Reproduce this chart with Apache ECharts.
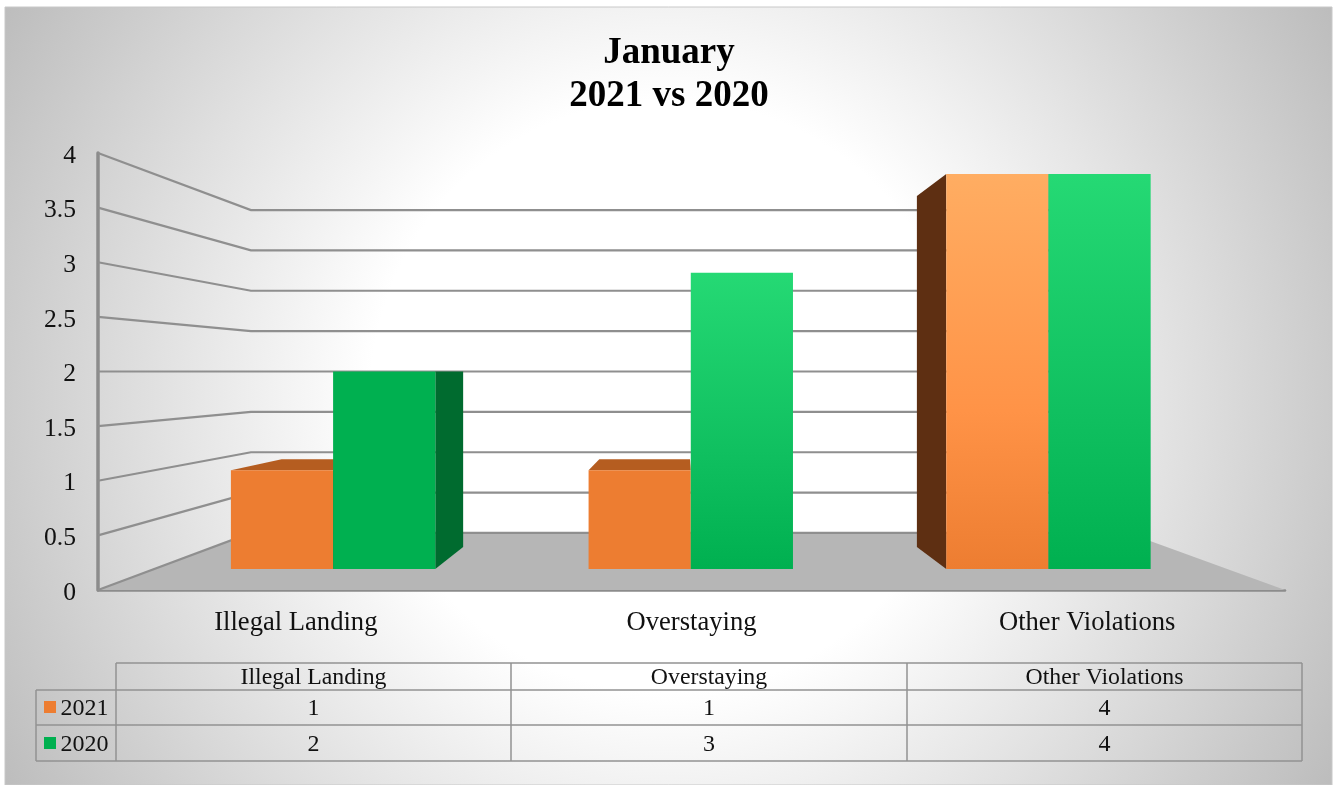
<!DOCTYPE html>
<html>
<head>
<meta charset="utf-8">
<style>html,body{margin:0;padding:0;background:#fff}#chart{width:1334px;height:785px}</style>
<script src="https://cdn.jsdelivr.net/npm/echarts@6/dist/echarts.min.js"></script>
</head>
<body>
<div id="chart"></div>
<script>
const categories = ['Illegal Landing', 'Overstaying', 'Other Violations'];
const values2021 = [1, 1, 4];
const values2020 = [2, 3, 4];
const yearNames = ['2021', '2020'];
const wallTicks = [0, 0.5, 1, 1.5, 2, 2.5, 3, 3.5, 4];
const titleText = 'January\n2021 vs 2020';

const SERIF = '"Liberation Serif","Times New Roman",serif';
const GRID = {left: 98, right: 1285, top: 153, bottom: 590};
const VANISH_X = 684;        // perspective vanishing point (x); y is the value-2 level
const K_FRONT = 0.904;       // depth scale of the bars' front faces
const K_DEPTH = 0.888;       // extra shrink from a bar's front to its back
const K_BACK = 0.739;        // depth scale of the back wall
const PALETTE = [
  {flat: '#ED7D31', top: '#FFAD62', mid: '#FF9347', side: '#5E2F12', cap: '#B55D20'},
  {flat: '#00B050', top: '#25D974', mid: '#10C060', side: '#006B2F', cap: '#006B2F'}
];

const chart = echarts.init(document.getElementById('chart'), null, {renderer: 'canvas'});

function persp(p, k, vy) {
  return [VANISH_X + (p[0] - VANISH_X) * k, vy + (p[1] - vy) * k];
}

function renderFloor(params, api) {
  const cs = params.coordSys;
  const vy = api.coord([0, 2])[1];
  const y0 = api.coord([0, 0])[1];
  const a = [cs.x, y0], b = [cs.x + cs.width, y0];
  return {type: 'polygon', shape: {points: [a, b, persp(b, K_BACK, vy), persp(a, K_BACK, vy)]},
    style: {fill: '#B6B6B6'}};
}

function renderWall(params, api) {
  const cs = params.coordSys;
  const v = api.value(0);
  const y = api.coord([0, v])[1];
  const vy = api.coord([0, 2])[1];
  const a = [cs.x, y], b = [cs.x + cs.width, y];
  return {type: 'polyline', shape: {points: [a, persp(a, K_BACK, vy), persp(b, K_BACK, vy)]},
    style: {fill: null, stroke: '#8F8F8F', lineWidth: 2.2}};
}

function makeBarRenderer(seriesIdx) {
  return function (params, api) {
    const vy = api.coord([0, 2])[1];
    const base = api.coord([api.value(0), 0]);
    const top = api.coord([api.value(0), api.value(1)]);
    const band = api.size([1, 0])[0] * K_FRONT;
    const w = band / 3.5;
    const c = persp(base, K_FRONT, vy)[0];
    const x0 = seriesIdx === 0 ? c - w : c;
    const x1 = x0 + w;
    const yT = persp(top, K_FRONT, vy)[1];
    const yB = persp(base, K_FRONT, vy)[1];
    const P = PALETTE[seriesIdx];
    const kids = [];
    const back = (x, y) => persp([x, y], K_DEPTH, vy);
    if (yT > vy + 1) {
      kids.push({type: 'polygon', z2: 5, shape: {points: [[x0, yT], [x1, yT], back(x1, yT), back(x0, yT)]},
        style: {fill: P.cap}});
    }
    if (x0 > VANISH_X + 20) {
      kids.push({type: 'polygon', z2: 5, shape: {points: [[x0, yT], [x0, yB], back(x0, yB), back(x0, yT)]},
        style: {fill: P.side}});
    }
    if (x1 < VANISH_X - 20) {
      kids.push({type: 'polygon', z2: 5, shape: {points: [[x1, yT], [x1, yB], back(x1, yB), back(x1, yT)]},
        style: {fill: P.side}});
    }
    const fill = api.value(1) > 2
      ? new echarts.graphic.LinearGradient(0, 0, 0, 1, [
          {offset: 0, color: P.top}, {offset: 0.6, color: P.mid}, {offset: 1, color: P.flat}])
      : P.flat;
    kids.push({type: 'rect', z2: 10, shape: {x: x0, y: yT, width: w, height: yB - yT}, style: {fill}});
    return {type: 'group', children: kids};
  };
}

// --- data table below the plot ---
const TX = [36, 116, 511, 907, 1302];
const TY = [663, 690, 725, 761];
const rowCenters = [708, 744];
const TBL_LINE = {stroke: '#929292', lineWidth: 1.5};
function hLine(x1, x2, y) { return {type: 'line', z: 5, shape: {x1, x2, y1: y, y2: y}, style: TBL_LINE}; }
function vLine(x, y1, y2) { return {type: 'line', z: 5, shape: {x1: x, x2: x, y1, y2}, style: TBL_LINE}; }
function tableText(text, x, y, size, align) {
  return {type: 'text', z: 6, x, y, style: {text, x: 0, y: 0, fill: '#111', font: size + 'px ' + SERIF,
    align: align || 'center', verticalAlign: 'middle'}};
}
const tableEls = [
  hLine(TX[1], TX[4], TY[0]), hLine(TX[0], TX[4], TY[1]), hLine(TX[0], TX[4], TY[2]), hLine(TX[0], TX[4], TY[3]),
  vLine(TX[0], TY[1], TY[3]), vLine(TX[1], TY[0], TY[3]), vLine(TX[2], TY[0], TY[3]),
  vLine(TX[3], TY[0], TY[3]), vLine(TX[4], TY[0], TY[3])
];
categories.forEach((c, i) => {
  const cx = (TX[i + 1] + TX[i + 2]) / 2;
  tableEls.push(tableText(c, cx, 678, 23.8));
  tableEls.push(tableText(String(values2021[i]), cx, rowCenters[0] + 1, 24));
  tableEls.push(tableText(String(values2020[i]), cx, rowCenters[1] + 1, 24));
});
yearNames.forEach((y, i) => {
  tableEls.push({type: 'rect', z: 6, shape: {x: 44, y: rowCenters[i] - 7, width: 12, height: 12},
    style: {fill: PALETTE[i].flat}});
  tableEls.push(tableText(y, 60.5, rowCenters[i] + 1, 24, 'left'));
});

chart.setOption({
  animation: false,
  backgroundColor: '#fff',
  title: {
    text: titleText, left: 664, top: 27, textAlign: 'center',
    textStyle: {fontFamily: SERIF, fontWeight: 'bold', fontSize: 37, lineHeight: 43, color: '#000'}
  },
  grid: {left: GRID.left, top: GRID.top, width: GRID.right - GRID.left, height: GRID.bottom - GRID.top, containLabel: false},
  xAxis: {
    type: 'category', data: categories,
    axisTick: {show: false},
    axisLine: {lineStyle: {color: '#8C8C8C', width: 2.5}},
    axisLabel: {fontFamily: SERIF, fontSize: 26.6, color: '#111', margin: 20}
  },
  yAxis: {
    type: 'value', min: 0, max: 4, interval: 0.5,
    splitLine: {show: false},
    axisTick: {show: false},
    axisLine: {show: true, lineStyle: {color: '#8C8C8C', width: 3.5}},
    axisLabel: {
      color: '#111', margin: 22,
      formatter: v => '{t|' + v + '}',
      rich: {t: {fontFamily: SERIF, fontSize: 25.6, color: '#111', padding: [6, 0, 0, 0]}}
    }
  },
  graphic: {elements: [
    {type: 'rect', z: -10, silent: true, shape: {x: 5, y: 7, width: 1327, height: 778},
      style: {stroke: '#C8C8C8', lineWidth: 1,
        fill: new echarts.graphic.RadialGradient(667, 396, 780, [
          {offset: 0, color: '#FFFFFF'}, {offset: 0.38, color: '#FFFFFF'}, {offset: 1, color: '#BBBBBB'}], true)}}
  ].concat(tableEls)},
  series: [
    {type: 'custom', name: 'floor', coordinateSystem: 'cartesian2d', z: 1, silent: true, renderItem: renderFloor, data: [[0]], encode: {x: -1, y: -1}},
    {type: 'custom', name: 'walls', coordinateSystem: 'cartesian2d', z: 1.5, silent: true, renderItem: renderWall, data: wallTicks.map(v => [v]), encode: {x: -1, y: 0}},
    {type: 'custom', name: yearNames[0], coordinateSystem: 'cartesian2d', z: 3, renderItem: makeBarRenderer(0),
      data: values2021.map((v, i) => [i, v]), encode: {x: 0, y: 1}},
    {type: 'custom', name: yearNames[1], coordinateSystem: 'cartesian2d', z: 3, renderItem: makeBarRenderer(1),
      data: values2020.map((v, i) => [i, v]), encode: {x: 0, y: 1}}
  ]
});
</script>
</body>
</html>
